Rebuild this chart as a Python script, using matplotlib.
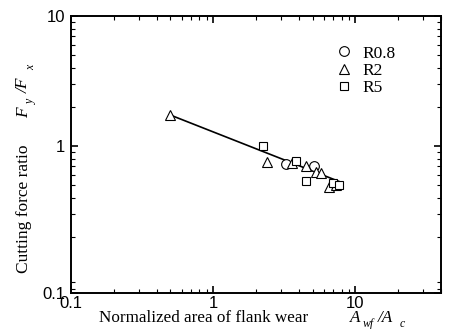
import matplotlib
matplotlib.use("Agg")
import matplotlib.pyplot as plt
from matplotlib.ticker import LogLocator, NullFormatter, FixedLocator, FixedFormatter

# Data
r08_x = [3.24, 5.15]
r08_y = [0.73, 0.70]
r2_x = [0.5, 2.4, 3.6, 4.5, 5.3, 5.75, 6.55, 7.35]
r2_y = [1.73, 0.75, 0.74, 0.70, 0.63, 0.62, 0.48, 0.50]
r5_x = [2.25, 3.84, 4.5, 7.0, 7.7]
r5_y = [1.0, 0.77, 0.54, 0.52, 0.50]
fit_x = [0.5, 7.8]
fit_y = [1.73, 0.53]

# Axis range and ticks (the reference prints "0.1" at the bottom corner)
x_range = (0.1, 40)
y_range = (0.074, 10)
xticks = [0.1, 1, 10]
xticklabels = ['0.1', '1', '10']
yticks = [0.074, 1, 10]
yticklabels = ['0.1', '1', '10']
series_labels = ['R0.8', 'R2', 'R5']

W, H = 450, 329
fig = plt.figure(figsize=(W / 100, H / 100), dpi=100)
ax = fig.add_axes([71 / W, 1 - 293 / H, (441 - 71) / W, (293 - 16) / H])
ax.set_xscale('log')
ax.set_yscale('log')
ax.set_xlim(*x_range)
ax.set_ylim(*y_range)

ax.plot(fit_x, fit_y, color='black', lw=1.2, zorder=2)
mk = dict(linestyle='none', markerfacecolor='white', markeredgecolor='black',
          markeredgewidth=0.8, zorder=3)
ax.plot(r08_x, r08_y, marker='o', markersize=7, label=series_labels[0], **mk)
ax.plot(r2_x, r2_y, marker='^', markersize=7.5, label=series_labels[1], **mk)
ax.plot(r5_x, r5_y, marker='s', markersize=6, label=series_labels[2], **mk)

leg = ax.legend(loc='upper left', bbox_to_anchor=(0.7135, 0.894), frameon=False,
                prop={'family': 'Liberation Serif', 'size': 12.5}, handlelength=1.0,
                handletextpad=0.6, labelspacing=0.07, borderpad=0, borderaxespad=0)

for s in ax.spines.values():
    s.set_linewidth(1.4)

ax.xaxis.set_major_locator(FixedLocator(xticks))
ax.xaxis.set_major_formatter(FixedFormatter(xticklabels))
ax.yaxis.set_major_locator(FixedLocator(yticks))
ax.yaxis.set_major_formatter(FixedFormatter(yticklabels))
ax.xaxis.set_minor_locator(LogLocator(base=10, subs=range(2, 10)))
ax.yaxis.set_minor_locator(LogLocator(base=10, subs=range(2, 10)))
ax.xaxis.set_minor_formatter(NullFormatter())
ax.yaxis.set_minor_formatter(NullFormatter())
ax.tick_params(which='both', direction='in', top=True, right=True)
ax.tick_params(which='major', length=5, width=1.2)
ax.tick_params(which='minor', length=3, width=0.8)
ax.tick_params(axis='y', which='major', pad=4)
ax.tick_params(axis='x', which='major', pad=2)
for lab in ax.get_xticklabels() + ax.get_yticklabels():
    lab.set_family('Liberation Sans')
    lab.set_fontsize(12)


def ftext(px, py, s, size=12.5, style='normal', rot=0):
    fig.text(px / W, 1 - py / H, s, ha='left', va='baseline', fontsize=size,
             family='Liberation Serif', style=style, rotation=rot,
             rotation_mode='anchor')


# x-axis label
ftext(99, 322, 'Normalized area of flank wear', size=12.3)
ftext(350, 322, 'A', size=12.3, style='italic')
ftext(363, 327, 'wf', size=8.5, style='italic')
ftext(378, 322, '/A', size=12.3, style='italic')
ftext(400, 327, 'c', size=8.5, style='italic')

# y-axis label (rotated, reading bottom-to-top)
ftext(28, 273, 'Cutting force ratio', rot=90)
ftext(28, 118, 'F', style='italic', rot=90)
ftext(34, 104, 'y', size=8.5, style='italic', rot=90)
ftext(28, 93, '/F', style='italic', rot=90)
ftext(34, 70, 'x', size=8.5, style='italic', rot=90)

fig.savefig('out.png', dpi=100)
